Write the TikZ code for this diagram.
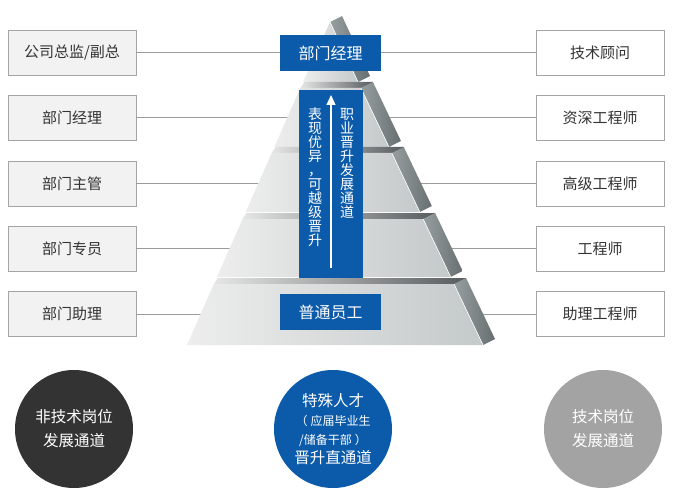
\documentclass[tikz,border=0pt]{standalone}
\usepackage{fontspec}
\setmainfont{Noto Sans CJK SC}
\usepackage{xcolor}
\usepackage{tikz}
\usetikzlibrary{positioning, calc, arrows.meta, shapes.geometric}
\definecolor{PathBlue}{RGB}{11,91,170}
\definecolor{BoxLine}{RGB}{165,165,165}
\definecolor{LinkGray}{RGB}{155,155,155}
\definecolor{BoxText}{RGB}{51,51,51}
\definecolor{DarkCircle}{RGB}{51,51,51}
\definecolor{GrayCircle}{RGB}{163,163,163}
\tikzset{
    rolebox/.style={
        draw=BoxLine, minimum width=128pt, minimum height=45pt, inner sep=0pt,
        text=BoxText, font=\fontsize{15}{18}\selectfont
    },
    leftbox/.style={
        rolebox, fill=black!5
    },
    rightbox/.style={
        rolebox, fill=white
    },
    link/.style={
        draw=LinkGray, line width=1pt
    },
    bluebox/.style={
        fill=PathBlue, text=white, inner sep=0pt, font=\fontsize{16}{19}\selectfont
    },
    frontface/.style={
        left color=black!7, right color={rgb,255:red,196;green,201;blue,201}
    },
    sideface/.style={
        left color={rgb,255:red,150;green,158;blue,160}, right color={rgb,255:red,104;green,111;blue,113}
    },
    topface/.style={
        left color=black!10, right color={rgb,255:red,88;green,92;blue,94}
    },
    pathcircle/.style={
        circle, minimum size=118pt, inner sep=0pt, text=white, align=center,
        font=\fontsize{15.5}{24}\selectfont
    }
}

\begin{document}
\begin{tikzpicture}[x=1pt, y=-1pt]
    \useasboundingbox (0,0) rectangle (680,500);

    % --- hai cot chuc danh ---
    \node[leftbox] (l1) at (72,52.5) {公司总监/副总};
    \node[leftbox, below=20pt of l1] (l2) {部门经理};
    \node[leftbox, below=20pt of l2] (l3) {部门主管};
    \node[leftbox, below=20pt of l3] (l4) {部门专员};
    \node[leftbox, below=20pt of l4] (l5) {部门助理};

    \node[rightbox] (r1) at (600,52.5) {技术顾问};
    \node[rightbox, below=20pt of r1] (r2) {资深工程师};
    \node[rightbox, below=20pt of r2] (r3) {高级工程师};
    \node[rightbox, below=20pt of r3] (r4) {工程师};
    \node[rightbox, below=20pt of r4] (r5) {助理工程师};

    \foreach \i in {1,...,5}
        \draw[link] (l\i) -- (r\i);

    % --- kim tu thap ---
    \shade[sideface] (330,22) -- (358,82) -- (370,76) -- (342,16) -- cycle;
    \shade[frontface] (330,22) -- (358,82) -- (303,82) -- cycle;
    \draw[white, line width=0.6pt] (330,22) -- (358,82);
    \foreach \yt/\yb in {88/147, 153/212, 219/277, 284/345} {
        \pgfmathsetmacro\lt{187+(345-\yt)*0.441}
        \pgfmathsetmacro\rt{483-(345-\yt)*0.475}
        \pgfmathsetmacro\lb{187+(345-\yb)*0.441}
        \pgfmathsetmacro\rb{483-(345-\yb)*0.475}
        \shade[sideface] (\rt,\yt) -- (\rb,\yb) -- ({\rb+12},{\yb-6}) -- ({\rt+12},{\yt-6}) -- cycle;
        \shade[topface] (\lt,\yt) -- (\rt,\yt) -- ({\rt+12},{\yt-6}) -- ({\lt+4},{\yt-6}) -- cycle;
        \shade[frontface] (\lt,\yt) -- (\rt,\yt) -- (\rb,\yb) -- (\lb,\yb) -- cycle;
        \draw[white, line width=0.6pt] (\rt,\yt) -- (\rb,\yb);
    }

    % --- o xanh ---
    \node[bluebox, minimum width=101pt, minimum height=36pt] (top) at (330.5,53) {部门经理};
    \node[bluebox, minimum width=101pt, minimum height=36pt] (base) at (330.5,312) {普通员工};
    \node[bluebox, minimum width=64pt, minimum height=188pt] (channel) at (331,184) {};

    \coordinate (arrbot) at (331,268);
    \coordinate (arrtop) at (331,95);
    \draw[white, line width=1.3pt, -{Triangle[width=9pt, length=10pt]}] (arrbot) -- (arrtop);

    \node[text=white, align=center, anchor=north, inner sep=0pt,
          font=\fontsize{14}{14}\selectfont] (leap) at (315,108)
        {表\\现\\优\\异\\，\\可\\越\\级\\晋\\升};
    \node[text=white, align=center, anchor=north, inner sep=0pt,
          font=\fontsize{14}{14}\selectfont] (career) at (347,108)
        {职\\业\\晋\\升\\发\\展\\通\\道};

    % --- ba hinh tron ---
    \node[pathcircle, fill=DarkCircle] (nontech) at (74,429) {非技术岗位\\发展通道};
    \node[pathcircle, fill=PathBlue, font=\fontsize{15.5}{19}\selectfont] (special) at (333,429)
        {特殊人才\\{\fontsize{12}{14}\selectfont （\hspace{3pt}应届毕业生}\\{\fontsize{12}{14}\selectfont /储备干部\hspace{3pt}）}\\晋升直通道};
    \node[pathcircle, fill=GrayCircle] (tech) at (603,429) {技术岗位\\发展通道};
\end{tikzpicture}
\end{document}
